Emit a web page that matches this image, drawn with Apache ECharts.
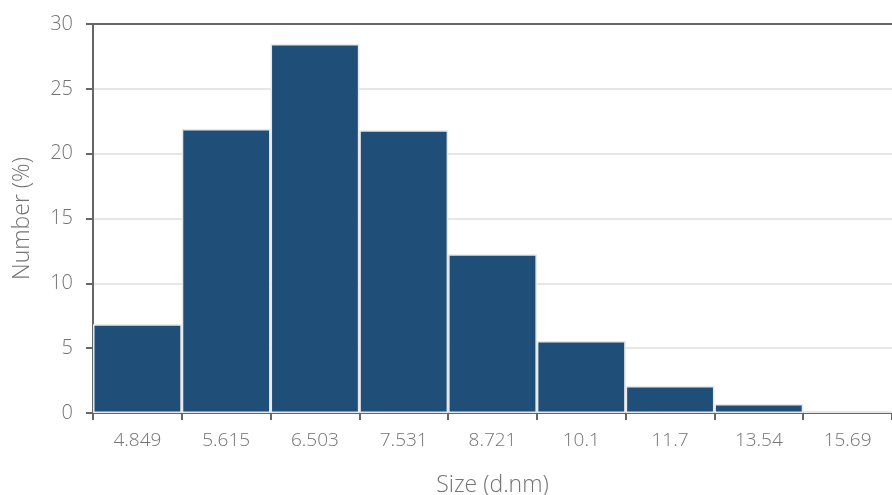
<!DOCTYPE html>
<html><head><meta charset="utf-8">
<script src="https://cdn.jsdelivr.net/npm/echarts@6/dist/echarts.min.js"></script>
<style>html,body{margin:0;padding:0;background:#fff}#c{width:892px;height:495px}</style>
</head><body><div id="c"></div>
<script>
const categories = ['4.849','5.615','6.503','7.531','8.721','10.1','11.7','13.54','15.69'];
const numberPct = [6.85, 21.9, 28.45, 21.8, 12.25, 5.55, 2.08, 0.7, 0.15];
const yTicks = [0, 5, 10, 15, 20, 25, 30];

const font = '"Open Sans", "Noto Sans", sans-serif';
const chart = echarts.init(document.getElementById('c'));
chart.setOption({
  animation: false,
  grid: {left: 93, right: 0, top: 24, bottom: 82, outerBoundsMode: 'none', containLabel: false},
  xAxis: [{
    type: 'category', data: categories,
    name: 'Size (d.nm)', nameLocation: 'middle', nameGap: 61,
    nameTextStyle: {fontSize: 23, color: '#737373', fontFamily: font, fontWeight: 300},
    axisLine: {lineStyle: {color: '#666', width: 2}},
    axisTick: {show: true, length: 7, lineStyle: {color: '#666', width: 2}},
    axisLabel: {fontSize: 19, color: '#737373', fontFamily: font, fontWeight: 300, margin: 18}
  }, {
    type: 'category', data: categories, position: 'top',
    axisLine: {show: true, lineStyle: {color: '#666', width: 2}},
    axisTick: {show: false}, axisLabel: {show: false}
  }],
  yAxis: {
    type: 'value', min: 0, max: 30, interval: 5,
    name: 'Number (%)', nameLocation: 'middle', nameGap: 59,
    nameTextStyle: {fontSize: 23, color: '#737373', fontFamily: font, fontWeight: 300},
    axisLine: {show: true, lineStyle: {color: '#666', width: 2}},
    axisTick: {show: true, length: 7, lineStyle: {color: '#666', width: 2}},
    axisLabel: {fontSize: 20, color: '#737373', fontFamily: font, fontWeight: 300, margin: 20,
      formatter: v => yTicks.includes(v) ? String(v) : ''},
    splitLine: {lineStyle: {color: '#e6e6e6', width: 2}}
  },
  series: [{
    type: 'bar', data: numberPct, barCategoryGap: '0%',
    itemStyle: {color: '#1f4e78', borderColor: '#e8e8e8', borderWidth: 1.5}
  }]
});
</script></body></html>
